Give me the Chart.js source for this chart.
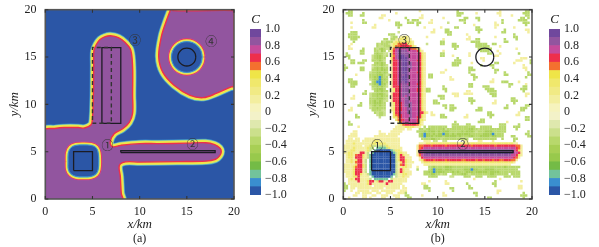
<!DOCTYPE html>
<html><head><meta charset="utf-8">
<script src="https://cdn.jsdelivr.net/npm/chart.js@4"></script>
<style>html,body{margin:0;padding:0;background:#fff;width:599px;height:247px;overflow:hidden}canvas{position:absolute;top:0;filter:blur(0.45px)}</style>
</head><body>
<canvas id="a" width="242" height="247" style="left:0"></canvas>
<canvas id="ca" width="49" height="247" style="left:250px"></canvas>
<canvas id="b" width="242" height="247" style="left:298px"></canvas>
<canvas id="cb" width="50" height="247" style="left:549px"></canvas>
<script>
const axisTicks = [0, 5, 10, 15, 20];
const colorLevels = [-1,-0.9,-0.8,-0.7,-0.6,-0.5,-0.4,-0.3,-0.2,-0.1,0,0.1,0.2,0.3,0.4,0.5,0.6,0.7,0.8,0.9,1];
const levelColors = ['#2b56a6','#3a8ecf','#72c39b','#74bb46','#98c94c','#a8cf55','#b8d86c','#cbe08c','#dfe8ae','#f3f2c8',
  '#f6f3bd','#f3ee9f','#f1ea85','#f0e86c','#efe548','#f4702f','#ee2f4b','#c64b9b','#92559f','#70489d'];

// panel (a): contour outlines of the C field, x/y in km
const regionLower = [[-0.1,-0.1],[-0.1,7.25],[1,7.45],[2,7.55],[3.5,7.55],[4.15,7.5],[4.85,7.85],[5,8.5],[5.1,11],[5.13,14],[5.15,15.65],
  [5.4,16.3],[5.8,16.85],[6.35,17.15],[6.9,17.25],[7.75,17.05],[8.5,16.5],[9.05,15.75],[9.25,14],[9.25,11],[9.25,9.05],[8.9,8.1],[8.2,7.42],[7.3,6.9],[6.88,6.05],[7.1,5.52],
  [8,5.67],[10,5.85],[12,5.85],[15,5.9],[17,5.95],[17.95,5.75],[18.5,5.38],[18.65,5],[18.47,4.55],[18.05,4.2],[17,4],[14,3.95],[10,3.9],[8.5,3.92],[7.85,3.55],[7.95,2.36],[8.05,0.6],[8.15,-0.1],[-0.1,-0.1]];
const regionUpper = [[13.35,20.2],[12.75,18.6],[12.3,17.15],[12.02,15.03],[12.46,13.37],[13.67,12],[15.35,10.95],[16.75,10.71],[18.1,11.15],[19.7,11.85],[19.95,11.9],[19.95,19.9],[13.5,19.9],[13.35,20.2]];
const holeSquare = [[2.42,4],[2.45,4.85],[2.72,5.4],[3.25,5.65],[4,5.7],[4.85,5.65],[5.38,5.4],[5.6,4.85],[5.65,4],[5.6,3.15],[5.38,2.67],[4.85,2.4],[4,2.35],[3.25,2.4],[2.72,2.67],[2.45,3.15],[2.42,4]];
const holeCircle = [[16.62,15],[16.5,15.62],[16.15,16.15],[15.62,16.5],[15,16.62],[14.38,16.5],[13.85,16.15],[13.5,15.62],[13.38,15],[13.5,14.38],[13.85,13.85],[14.38,13.5],[15,13.38],[15.62,13.5],[16.15,13.85],[16.5,14.38],[16.62,15]];

// sources drawn in both panels, km
const sourceSquare = [[3,3],[5,3],[5,5],[3,5],[3,3]];
const sourceStrip = [[8,4.9],[18,4.9],[18,5.1],[8,5.1],[8,4.9]];
const sourceBar = [[6,8],[8,8],[8,16],[6,16],[6,8]];
const sourceBarDashed = [[5,8],[7,8],[7,16],[5,16],[5,8]];
const sourceCircle = [[15.95,15],[15.88,15.36],[15.67,15.67],[15.36,15.88],[15,15.95],[14.64,15.88],[14.33,15.67],[14.12,15.36],[14.05,15],[14.12,14.64],[14.33,14.33],[14.64,14.12],[15,14.05],[15.36,14.12],[15.67,14.33],[15.88,14.64],[15.95,15]];
const labelsA = [['①',6.6,5.63],['②',15.6,5.74],['③',9.5,16.7],['④',17.6,16.6]];
const labelsB = [['①',3.6,5.7],['②',12.65,5.77],['③',6.47,16.76]];

// panel (b): field read on a 0.25 km grid, top row first; letters are levels
const levelOfChar = {B:0,L:1,T:2,G:5,g:6,v:7,y:11,Y:13,O:15,R:16,M:17,P:18,D:19};
const gridB = [
"..gg...... .......... .......... ..y....... ........g. .......... ......y... .......gg.",
".ggg....g. .......... ..y....... .......... ........gg g.....y... .....yy... ......ggg.",
"..gg...gg. ......yy.. .......... ...y...... ........gg .......... ......y... .y.....gg.",
".......... .....yy... ......g... ..yy...... ..y....... .gg...gg.. .......... .....gg.g.",
"........g. .........y .......g.g gg.....y.. .........g gg.....g.. .......g.. ....gggg..",
"...y....gg .......... ..gg...ggg .gg...yy.. ....v..... .g........ ....y..g.. ......ggg.",
".......... ...y...... ..ggg..... .g........ .......... .....y.... ....yy.... .......g..",
"...y...... ..yy...... ...g...... ....y..... .y.....gg. ......gg.. ....y..... ..y.......",
".......... .......... .......... ........y. ...gg..... ......ggg. ........g. .......yy.",
"...ggg.... .......... ...v...... .......yy. ...ggg.... .......g.. .......gg. ........y.",
"..gggg.... .........g gg........ .......... ....gg.... ..y....... .......... ..g.......",
"..ggggg... .......... vgg.yYYy.. .....y.... .......... ...y...... ....y..... ..gg......",
"...ggg.... .......gg. ggyyYYYyy. .......... ..y....... ..yy..gg.. ........g. ...g......",
"....g..... ......gvgg gyYYYYYYYy .......... .gg....... ....gggg.. ........gg ..........",
"...y...... ....gvgggv yYYOORRYYy .....v.... .gg...gg.. ......gggg g..gg..... ..........",
"..y....... ....gvvggg yYOORRRROY y......... ......ggg. ......gggg gg....y... ..........",
"..yy....g. ...gvgGgvv yOMMMMMMRO OYy....... .......g.. .......ggg ggg....... ...y......",
".......gg. ...ggvGg.v YRMPPPPMMM MRYy...... ..y....... ........gg gg...y.... ..........",
".g.....gg. ...gGggvv. YRMPPPPPMM MMRYy..... .gg....... ...y...... .gg...y... ....g.....",
".gg....... ..vgGGgvg. YOMPDDPPMM MMRYy..... .gg...y... ...y...... ....yy.... ..........",
"..g....... ..vgGGgg.. YRMPDDDPMM MMRYy..... ........g. ........yy .......... .....yyy..",
"...gg...gg ..gggGgv.. YRRMPDDPMM MRRYy..... .......ggg .........y .......... ...yyy...g",
"...gg.ggg. ...gGgGg.. yRRMPDDPPM MMRYy..... ......gggg ....y..... ....gg.... ..y......g",
"g......... ..vgggGgv. yRRMPDDPPM MMRYy..... ......ggg. ........g. ..gg...... ......y...",
"gg.....gg. ..vgGgGgg. yRRMPDDPPM MMRYy..... .......... ...gg..... ...g...... ......yy..",
"g......gg. ..ggGgGGg. yRRMPDDPMM MMRYy..... ...y...... ...ggg.... ....gg.... .......y..",
".......... .vggGGgGg. yRRMPDDPMM MRRYy..... .yy....... ...g...... ....g...g. ........g.",
".....y.... .gggGGGgvv yRRMPPDPMM MMRYy.gg.. .......... ....gg.... ........gg ........gg",
".......... .ggGGLGgg. yRRMPDDPMM MMRYy.gg.. .....y.... .....gg... .......... .......g..",
"..gg...... .vgGGLGGg. yRRMPDDPMM MMRYy..... .....yy... .....g.... ...y...... ..........",
"..gggg.... ..gGLLGgg. yRRMPPDPMM MMRYy..... .......... .......... ..yy...ggg ....y.....",
"...ggg.... .vgGGLGGv. yRRMMPPMMM MRRYy..... .......... ...gg..... .......... gg.....y..",
"...gg..... ..ggGgGgv. yRRRMPPPMM MMRYy..... ..g....... ...gg....g gg........ g.....gg..",
".......... ..vgGGGg.. yYRRMPPPMM MRRYygg... ..gg...... .......... gggg...... .....ggg..",
".........g ...gGgGgg. yYRRMPPPMM MRRYygg... ...g...... ..yy...... .gggg..... ......g...",
"........gg .vggGGGgv. yRRRMPPPMM MMRYy..... ......yyy. .yyyy..... ..ggg..... .......yy.",
"....y..... .vggGgGgg. yRRRMPMPMM MMRYy..... ggg....yy. .......... ...gg..... .......y..",
"...yy..... .gggGGGgv. yRRRMMPPMM MMRYy..... .gg....... ...gg..... .......... .gg.......",
".......... .ggGgGgvv. yRRRMMPPMM MMRYy...gg .......... ...ggg.... ....y..... .ggg......",
".......g.. .ggGGGgg.. yYRRRMPPPM MMRYy...gg g......... ....g..... ...yy..... ..g.......",
"......gg.. .vgGgGgg.. yYRRRMPPPM MMRYy..... ..gg.gg... .......... .........g .......gg.",
"...y...... .vggGggg.. yYRRRMMPPM MMRYy..... ...g.ggg.. .......gg. ........gg .....ggg..",
"..yy...... ..ggggvv.. yYRRRMMPPM MMRYy..... .....gg... ......ggg. .......... .....gg...",
".......... ...gvggv.. .YRRMMMPPM MMRRYy.y.. .......... .......... .gg....... ....y.....",
".....g.... ....vggv.. .YORRMMMPM MMRYy..yy. .gg....... ..y....... .ggg...... ...yy.....",
".....gg... .....v.... .YYORMMMPM MRRYy..... .ggg...... .yy....... ..g....... .......gg.",
".......... .......... ..YORRMMMM MRYYy..... .......... ........gg .......... .......gg.",
"..g....... .......... ...YOMMMMM MRYy...... .......g.. .......ggg .........y ..........",
"..gg...... .......... ...yYORRRR ROYy...... ......ggg. ..gg...... ......ggg. ....g.....",
"......y... .......... ..yyyyYYYY yyy.g.gggg gggg..gggg gggggg..gg ggg...ggg. ..ggg.....",
".......... .......... .yyyyy.yy. ..ggvgGggg ggGvgggggg gggGGggvgg ggggggggg. ...g......",
"....yy.... .....y.... yyyyy..... .gggGgGGGg GgGGGggggg GgGGGgvggg GGGgggggg. ........g.",
"...yyy.... .....yyy.y yyyy...... ..gGLGGgGg GGLGGgGgGG GGGGgggggG GGGLgggg.. .......gg.",
"..yyyy.... ...yyyyyyy yyy....... ..gGLGGGgG GGgGGGGGgG gggGGgggGG GGgGGggg.. .gg.....gg",
"..yy.yy..y yyyyyyyyyy yyyy...... ...ggggGGg gvgggggggg ggg..ggggg ggggg..g.. ..gg......",
".yyyyyy.yy yyyYYyyyyy yyyy...... ....yyy.vv ..vv...... .yy....yy. ...y...... ..g.......",
".yyyYyyyyy yyYYYYYYyy yyyy...... ..yyyYYYYY YYYYYYYYYY YYYYYYYYYY YYYYYYYYYY YYyy......",
"yyyyyyyy.y yYvvvvvvYy yyyy...... .yOORRRORR RRRORRRRRR RRRRORRRRR RRRRORRRRR RRROOy....",
"yyyyYyyyyy Yvg.TTTTvY yyyyy..... .yORMMMMMM MMMMMMMMMM MMMMMMMMMM MMMMMMMMMM MMMROy....",
"yyyYYyyyyy Yv.TBBBBBB TvYYy..... .yRMPPPPPP PPPPPPPPPP PPPPPPPPPP PPPPPPPPPP PPMRYy....",
"yyYYyyyRRy v.TBBBBBBB BTvYYyy... .yRMPDDDDD DDDDDDDDDD DDDDDDDDDD DDDDDDDDDD DPMMRy....",
".yYYyORRYy vTBBBBBBBB BBvYRYyy.. .yOMPPPPPP PPPPPPPPPP PPPPPPPPPP PPPPPPPPPP PMMRYy....",
".yYYyRRRYy vTBBBBBBBB BBvYRRyyy. ..yRMMMMMM MMMMMMMMMM MMMMMMMMMM MMMMMMMMMM MMROy.....",
".yyYyYRRyv .TBBBBBBBB BBvYRRYyy. ..yYORRROR RRRORRRRRR OORRRRORRO RRRORROORR ROOy......",
".yyYyORRyv .TBBBBBBBB BBvyYRYyyy ...yYYYYYY YYYYYYYYYY YYYYYYYYYY YYYYYYYYYY YYy.......",
"yyyyyYRRYv .TBBBBBBBB BBvyORYyy. ....yyyyyy yyyyyyyyyy yyyyyyyyyy yyyyyyyyyy y.........",
"yyyyYORRYv .TBBBBBBBB BBvyyYYyy. .y....ggGg gggGGGgggg gggggggggg ggggggggGg ggggg.....",
"yyyyYRRRyv .TBBBBBBBB BBvyRYyy.. .g....gGLG GGgGGGgggg gGGGLGGggg GGGGgggggg gggg......",
"yyyyYRRRyv .TBBBBBBBB BBvyRYyyy. ....ggGGLG GGGgggGgGg ggGGGgGGGG GgGGGGgggg ggggg.....",
".yyyYRRYyy vTBBBBBBBB BTvyyYYyy. ....gggGGg gvgg..gggg GGgvgggggg ggGGgggggg .gggg.....",
".yyyYYRyyy y.TBBBBBBB T.vyyYyy.. ......gggg .....vv... .ggg..ggg. .gggg...gg g.ggg.....",
"..yYyRRyyy yv.TTTTTT. vyyyyyy... .......... .......... .....y.... ......y... ..........",
"..yyyyRyyy YRRyYRRyyR Ryyyyyy... ......y... ...y...... .......... ....g..... .....y....",
"g.yyyyyyyy YRyyyyyyRy yyyyy..... ...yy..... ...yy..... ..g....... ...gg..... ..........",
"gg.yyyyyyy yy.yyyyyyy yyyy.y.... ....gg.... .......... ...g...... ....g..... ....yy....",
"gg.yy.yyyy yyyyyyy.yy yyyy.yy... ....ggg... .....gg... ...gg..... .......... ....yy....",
"g..y..yyyy y.yyy.yyyy yy..yyy... ......g... ......g... .......... .....yy... ..........",
".....yy.yy yy..yy..yy y..yyyg... .......... ..y....... .....gg... .....y.... ......g...",
"....yy..yy ..yy..yyy. .yyy..gg.. ...y...... ..yy...... ......g... .......... .....ggg..",
"..y.....yy .y....yy.. ..yy...gg. .......... .......... .......... .gg....... ......g..."
];

const SERIF = '"Liberation Serif"';
const INK = '#222';
const toXY = p => p.map(([x, y]) => ({x, y}));
function layer(pts, color, width, fillColor) {
  return {type:'scatter', data: toXY(pts), showLine:true, pointRadius:0, tension:0.35,
    borderColor: color, borderWidth: width, borderJoinStyle:'round',
    fill: fillColor ? 'shape' : false, backgroundColor: fillColor || 'transparent'};
}
function outline(pts, dashed) {
  return {type:'scatter', data: toXY(pts), showLine:true, pointRadius:0, tension:pts.length > 6 ? 0.35 : 0.0001,
    borderColor: dashed ? '#333' : '#1c1c24', borderWidth: dashed ? 1.4 : 1.3,
    borderDash: dashed ? [4,3] : [], fill:false};
}
const rimRegion = pts => [layer(pts,levelColors[1],7.8), layer(pts,levelColors[2],6.8), layer(pts,levelColors[7],5.8), layer(pts,levelColors[14],5),
  layer(pts,levelColors[18],0.1,levelColors[18]), layer(pts,levelColors[16],1.4)];
const rimHole = pts => [layer(pts,levelColors[17],7.2), layer(pts,levelColors[16],6.2), layer(pts,levelColors[14],5), layer(pts,levelColors[7],2.2), layer(pts,levelColors[2],1.4),
  layer(pts,levelColors[1],1,levelColors[0])];
const sources = [outline(sourceSquare), outline(sourceStrip), outline(sourceBar), outline(sourceBarDashed,true), outline(sourceCircle)];

const panelPlugin = labels => ({id:'panelFrame', afterDatasetsDraw(chart){
  const {ctx, chartArea:a, scales:{x, y}} = chart;
  ctx.save();
  ctx.strokeStyle = '#555'; ctx.lineWidth = 1.6;
  ctx.strokeRect(a.left, a.top, a.right-a.left, a.bottom-a.top);
  ctx.lineWidth = 1.1; ctx.strokeStyle = '#333';
  ctx.beginPath();
  for (const t of axisTicks) {
    const px = x.getPixelForValue(t), py = y.getPixelForValue(t);
    ctx.moveTo(px,a.bottom); ctx.lineTo(px,a.bottom-3); ctx.moveTo(px,a.top); ctx.lineTo(px,a.top+3);
    ctx.moveTo(a.left,py); ctx.lineTo(a.left+3,py); ctx.moveTo(a.right,py); ctx.lineTo(a.right-3,py);
  }
  ctx.stroke();
  ctx.font = '12px "Noto Sans CJK SC"'; ctx.textAlign='center'; ctx.textBaseline='middle'; ctx.fillStyle='#333';
  for (const [s,vx,vy] of labels) ctx.fillText(s, x.getPixelForValue(vx), y.getPixelForValue(vy));
  ctx.restore();
}});

function panel(id, datasets, labels, tag) {
  new Chart(document.getElementById(id), {
    type:'scatter',
    data:{datasets: datasets.slice().reverse()},
    plugins:[panelPlugin(labels)],
    options:{
      responsive:false, animation:false, devicePixelRatio:1, events:[],
      layout:{padding:{top:9.7,right:8,bottom:2.5,left:0}},
      plugins:{legend:{display:false}, tooltip:{enabled:false},
        title:{display:true,text:tag,position:'bottom',fullSize:false,color:INK,
          font:{family:SERIF,size:12,weight:'normal',lineHeight:1},padding:0}},
      scales:{
        x:{type:'linear',min:0,max:20,afterFit(s){s.height=33.5;s.paddingLeft=0;s.paddingRight=0;},
          afterBuildTicks(s){s.ticks=axisTicks.map(value=>({value}));},
          grid:{display:false,drawTicks:false},border:{display:false},
          ticks:{color:INK,padding:5.8,maxRotation:0,font:{family:SERIF,size:12}},
          title:{display:true,text:'x/km',color:INK,padding:0,font:{family:SERIF,size:13,style:'italic'}}},
        y:{type:'linear',min:0,max:20,afterFit(s){s.width=45.3;s.paddingTop=0;s.paddingBottom=0;},
          afterBuildTicks(s){s.ticks=axisTicks.map(value=>({value}));},
          grid:{display:false,drawTicks:false},border:{display:false},
          ticks:{color:INK,padding:8.8,font:{family:SERIF,size:12}},
          title:{display:true,text:'y/km',color:INK,padding:{top:6.8,bottom:0},font:{family:SERIF,size:13,style:'italic'}}}
      }
    }
  });
}

function colorbar(id) {
  const sets = levelColors.map((c,i)=>({data:[[colorLevels[i],colorLevels[i+1]]],backgroundColor:c,borderWidth:0,
    barPercentage:1,categoryPercentage:1,grouped:false}));
  new Chart(document.getElementById(id), {
    type:'bar',
    data:{labels:['C'],datasets:sets},
    options:{
      responsive:false, animation:false, devicePixelRatio:1, events:[],
      layout:{padding:{top:0,right:0,bottom:52,left:0}},
      plugins:{legend:{display:false},tooltip:{enabled:false}},
      scales:{
        x:{position:'top',afterFit(s){s.height=29;s.paddingLeft=0;s.paddingRight=0;},grid:{display:false,drawTicks:false},border:{display:false},
          ticks:{display:false},
          title:{display:true,text:'C',color:INK,padding:{top:12,bottom:0},font:{family:SERIF,size:13,style:'italic'}}},
        y:{position:'right',min:-1,max:1,afterFit(s){s.width=s.chart.width-11;s.paddingTop=0;s.paddingBottom=0;},
          grid:{display:false,drawTicks:false},border:{display:false},
          afterBuildTicks(s){s.ticks=colorLevels.filter((v,i)=>i%2===0).map(value=>({value}));},
          ticks:{color:INK,padding:4,autoSkip:false,font:{family:SERIF,size:12},
            callback(v){return Math.abs(v)<1e-6?'0':Number(v).toFixed(1).replace('-','−');}}}
      }
    }
  });
}

const cellsByLevel = {};
gridB.forEach((row,r)=>{
  [...row.replace(/ /g,'')].forEach((ch,c)=>{
    if (!(ch in levelOfChar)) return;
    (cellsByLevel[levelOfChar[ch]] = cellsByLevel[levelOfChar[ch]] || []).push({x:(c+0.5)/4,y:20-(r+0.5)/4});
  });
});
const cellSets = Object.keys(cellsByLevel).map(Number).sort((p,q)=>Math.abs(p-9.5)-Math.abs(q-9.5)).map(l=>({
  type:'scatter',data:cellsByLevel[l],pointStyle:'rect',pointRadius:1.78,pointBorderWidth:0,
  pointBackgroundColor:levelColors[l],showLine:false}));

const background = [[-1,-1],[21,-1],[21,21],[-1,21],[-1,-1]];
panel('a',[
  {...layer(background,levelColors[0],0,levelColors[0]),tension:0.0001},
  ...rimRegion(regionLower),...rimRegion(regionUpper),
  ...rimHole(holeSquare),...rimHole(holeCircle),
  ...sources],labelsA,'(a)');
panel('b',[...cellSets,...sources],labelsB,'(b)');
colorbar('ca');
colorbar('cb');
</script>
</body></html>
